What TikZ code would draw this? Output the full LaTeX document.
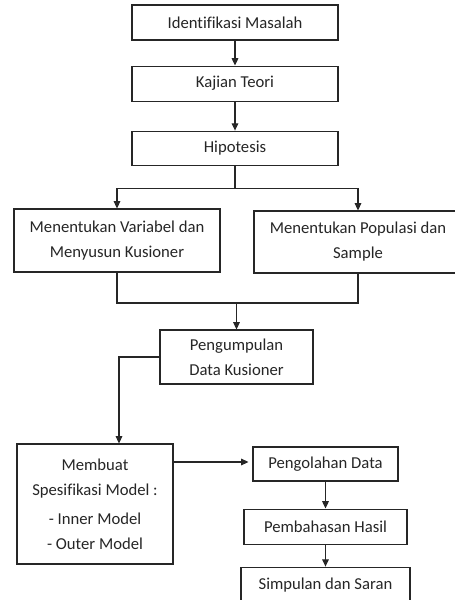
\documentclass[tikz,border=0pt]{standalone}
\usepackage{fontspec}
\setmainfont[Ligatures=NoCommon]{Carlito}
\usetikzlibrary{arrows.meta, positioning, calc}
\tikzset{
    font=\fontsize{12.5}{18.75}\selectfont,
    >={Triangle[length=5.5pt,width=5pt]},
    % Shapes
    box/.style={rectangle, draw=black!85, line width=0.8pt, fill=white,
                text=black!85, align=center, inner sep=2pt,
                minimum width=154.5pt, minimum height=26.25pt},
    % Flow
    flow/.style={->, line width=0.8pt, black!85},
    link/.style={line width=0.8pt, black!85}
}
\begin{document}
\begin{tikzpicture}[x=0.75pt, y=-0.75pt]
\useasboundingbox (0,0) rectangle (454,600);

\node[box] (idm) at (235,22.5) {Identifikasi Masalah};
\node[box, below=18.75pt of idm] (kjt) {Kajian Teori};
\node[box, below=21.75pt of kjt, minimum height=25.5pt] (hip) {Hipotesis};

\node[box, minimum height=47.25pt] (mvk) at (117,240.5) {Menentukan Variabel dan\\Menyusun Kusioner};
\node[box, minimum width=156pt, minimum height=46.5pt] (mps) at (358,242) {Menentukan Populasi dan\\Sample};

\node[box, minimum width=114.75pt, minimum height=40.5pt] (pdk) at (236.5,357) {Pengumpulan\\Data Kusioner};

\node[box, minimum width=117pt, minimum height=90pt] (msm) at (95,504)
    {Membuat\\Spesifikasi Model :\\[3pt]- Inner Model\\- Outer Model};
\node[box, minimum width=108.75pt, minimum height=25.5pt] (pgd) at (325.5,464) {Pengolahan Data};
\node[box, minimum width=122.25pt, below=20.25pt of pgd] (pbh) {Pembahasan Hasil};
\node[box, minimum width=126.75pt, below=16.5pt of pbh] (sds) {Simpulan dan Saran};

\coordinate (split) at ($(hip.south)+(0,23)$);
\coordinate (merge) at (pdk.north |- 0,303);

\draw[flow] (idm) -- (kjt);
\draw[flow] (kjt) -- (hip);
\draw[link] (hip.south) -- (split);
\draw[flow] (split) -| (mvk.north);
\draw[flow] (split) -| (mps.north);

\draw[link] (mvk.south) |- (merge) -| (mps.south);
\draw[flow] (merge) -- (pdk.north);

\draw[flow] (pdk.west) -| ([xshift=18]msm.north);
\draw[flow] (msm.east |- 0,462) -- ([xshift=-3]pgd.west |- 0,462);
\draw[flow] (pgd.south) -- (pgd.south |- pbh.north);
\draw[flow] (pbh.south) -- (pbh.south |- sds.north);

\end{tikzpicture}
\end{document}
